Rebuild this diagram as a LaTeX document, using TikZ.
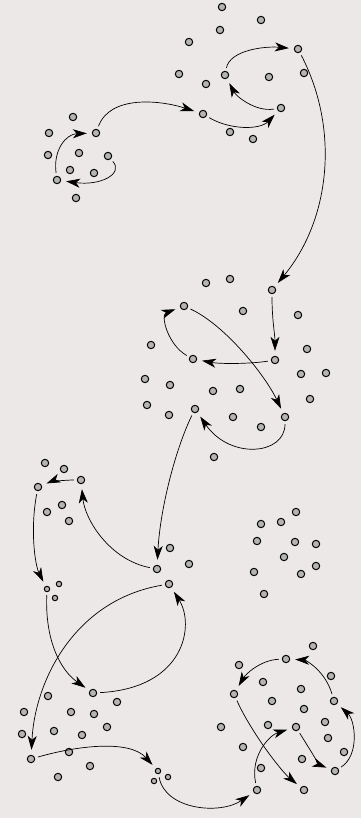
\documentclass[tikz,border=0pt]{standalone}
\usepackage{amsmath,amssymb}
\usepackage{tikz}
\usetikzlibrary{arrows.meta}

\begin{document}
\begin{tikzpicture}[x=1pt, y=-1pt,
    dot/.style={circle, draw, fill=dotgray, line width=1pt, minimum size=7.4pt, inner sep=0pt},
    tinydot/.style={dot, minimum size=5.4pt},
    hop/.style={line width=0.7pt, shorten <=3pt, shorten >=5pt, -{Stealth[length=14pt, width=9pt, inset=4pt]}}]
    \definecolor{paper}{RGB}{237,232,232}
    \definecolor{dotgray}{RGB}{180,180,180}

    \useasboundingbox (0,0) rectangle (361,818);
    \fill[paper] (0,0) rectangle (361,818);

    % top left group
    \node[dot] (a1) at (73,117) {};
    \node[dot] (a2) at (49,133) {};
    \node[dot] (a3) at (96,133) {};
    \node[dot] (a4) at (48,155) {};
    \node[dot] (a5) at (79,153) {};
    \node[dot] (a6) at (108,156) {};
    \node[dot] (a7) at (70,170) {};
    \node[dot] (a8) at (94,173) {};
    \node[dot] (a9) at (57,180) {};
    \node[dot] (a10) at (76,198) {};

    % top right group
    \node[dot] (b1) at (222,7) {};
    \node[dot] (b2) at (261,20) {};
    \node[dot] (b3) at (220,30) {};
    \node[dot] (b4) at (189,42) {};
    \node[dot] (b5) at (298,49) {};
    \node[dot] (b6) at (179,74) {};
    \node[dot] (b7) at (225,75) {};
    \node[dot] (b8) at (269,77) {};
    \node[dot] (b9) at (304,73) {};
    \node[dot] (b10) at (206,84) {};
    \node[dot] (b11) at (281,108) {};
    \node[dot] (b12) at (203,114) {};
    \node[dot] (b13) at (230,132) {};
    \node[dot] (b14) at (253,139) {};

    % middle group
    \node[dot] (c1) at (206,283) {};
    \node[dot] (c2) at (230,279) {};
    \node[dot] (c3) at (272,290) {};
    \node[dot] (c4) at (184,306) {};
    \node[dot] (c5) at (243,311) {};
    \node[dot] (c6) at (298,315) {};
    \node[dot] (c7) at (151,345) {};
    \node[dot] (c8) at (307,349) {};
    \node[dot] (c9) at (193,359) {};
    \node[dot] (c10) at (275,360) {};
    \node[dot] (c11) at (145,379) {};
    \node[dot] (c12) at (170,385) {};
    \node[dot] (c13) at (301,374) {};
    \node[dot] (c14) at (326,373) {};
    \node[dot] (c15) at (213,391) {};
    \node[dot] (c16) at (240,389) {};
    \node[dot] (c17) at (147,405) {};
    \node[dot] (c18) at (310,399) {};
    \node[dot] (c19) at (169,415) {};
    \node[dot] (c20) at (195,409) {};
    \node[dot] (c21) at (233,417) {};
    \node[dot] (c22) at (261,427) {};
    \node[dot] (c23) at (285,417) {};
    \node[dot] (c24) at (214,457) {};

    % left group
    \node[dot] (d1) at (45,463) {};
    \node[dot] (d2) at (64,469) {};
    \node[dot] (d3) at (81,480) {};
    \node[dot] (d4) at (38,487) {};
    \node[dot] (d5) at (62,505) {};
    \node[dot] (d6) at (47,512) {};
    \node[dot] (d7) at (69,521) {};
    \node[dot] (d8) at (170,548) {};
    \node[dot] (d9) at (189,564) {};
    \node[dot] (d10) at (157,569) {};
    \node[dot] (d11) at (169,584) {};
    \node[tinydot] (s1) at (47,589) {};
    \node[tinydot] (s2) at (59,584) {};
    \node[tinydot] (s3) at (55,598) {};

    % right group (no hops)
    \node[dot] (e1) at (296,512) {};
    \node[dot] (e2) at (261,524) {};
    \node[dot] (e3) at (281,522) {};
    \node[dot] (e4) at (257,541) {};
    \node[dot] (e5) at (295,542) {};
    \node[dot] (e6) at (316,544) {};
    \node[dot] (e7) at (284,557) {};
    \node[dot] (e8) at (316,566) {};
    \node[dot] (e9) at (254,572) {};
    \node[dot] (e10) at (301,574) {};
    \node[dot] (e11) at (264,594) {};

    % bottom left group
    \node[dot] (f1) at (93,693) {};
    \node[dot] (f2) at (48,696) {};
    \node[dot] (f3) at (117,702) {};
    \node[dot] (f4) at (24,712) {};
    \node[dot] (f5) at (71,712) {};
    \node[dot] (f6) at (94,714) {};
    \node[dot] (f7) at (107,727) {};
    \node[dot] (f8) at (22,734) {};
    \node[dot] (f9) at (54,731) {};
    \node[dot] (f10) at (82,735) {};
    \node[dot] (f11) at (69,752) {};
    \node[dot] (f12) at (31,759) {};
    \node[dot] (f13) at (90,766) {};
    \node[dot] (f14) at (58,777) {};
    \node[tinydot] (t1) at (158,771) {};
    \node[tinydot] (t2) at (168,777) {};
    \node[tinydot] (t3) at (154,781) {};

    % bottom right group
    \node[dot] (g1) at (313,646) {};
    \node[dot] (g2) at (286,659) {};
    \node[dot] (g3) at (239,665) {};
    \node[dot] (g4) at (331,676) {};
    \node[dot] (g5) at (263,682) {};
    \node[dot] (g6) at (301,689) {};
    \node[dot] (g7) at (234,694) {};
    \node[dot] (g8) at (272,701) {};
    \node[dot] (g9) at (334,701) {};
    \node[dot] (g10) at (304,709) {};
    \node[dot] (g11) at (325,722) {};
    \node[dot] (g12) at (221,727) {};
    \node[dot] (g13) at (268,725) {};
    \node[dot] (g14) at (296,727) {};
    \node[dot] (g15) at (328,738) {};
    \node[dot] (g16) at (243,747) {};
    \node[dot] (g17) at (344,752) {};
    \node[dot] (g18) at (302,759) {};
    \node[dot] (g19) at (261,768) {};
    \node[dot] (g20) at (335,771) {};
    \node[dot] (g21) at (257,790) {};
    \node[dot] (g22) at (304,790) {};

    % hops
    \draw[hop] (a9) .. controls (53,150) and (66,134) .. (a3);
    \draw[hop] (a6) .. controls (124,174) and (100,186) .. (a9);
    \draw[hop] (a3) .. controls (110,95) and (160,100) .. (b12);
    \draw[hop] (b12) .. controls (230,130) and (260,130) .. (b11);
    \draw[hop] (b11) .. controls (255,112) and (236,96) .. (b7);
    \draw[hop] (b7) .. controls (230,50) and (265,46) .. (b5);
    \draw[hop] (b5) .. controls (340,130) and (330,220) .. (c3);
    \draw[hop] (c3) .. controls (272,320) and (275,335) .. (c10);
    \draw[hop] (c10) .. controls (250,364) and (220,364) .. (c9);
    \draw[hop] (c9) .. controls (168,345) and (160,315) .. (c4);
    \draw[hop] (c4) .. controls (225,325) and (265,375) .. (c23);
    \draw[hop] (c23) .. controls (285,455) and (230,460) .. (c20);
    \draw[hop] (c20) .. controls (175,450) and (160,510) .. (d10);
    \draw[hop] (d3) .. controls (65,480) and (50,482) .. (d4);
    \draw[hop] (d4) .. controls (30,530) and (35,565) .. (s1);
    \draw[hop] (d10) .. controls (110,560) and (85,520) .. (d3);
    \draw[hop] (f1) .. controls (185,688) and (195,625) .. (d11);
    \draw[hop] (d11) .. controls (75,600) and (35,680) .. (f12);
    \draw[hop] (s1) .. controls (45,640) and (60,670) .. (f1);
    \draw[hop] (f12) .. controls (80,745) and (130,740) .. (t1);
    \draw[hop] (t1) .. controls (165,810) and (220,815) .. (g21);
    \draw[hop] (g21) .. controls (250,755) and (270,735) .. (g14);
    \draw[hop] (g14) .. controls (310,750) and (320,765) .. (g20);
    \draw[hop] (g20) .. controls (360,755) and (355,720) .. (g9);
    \draw[hop] (g9) .. controls (325,670) and (305,660) .. (g2);
    \draw[hop] (g2) .. controls (260,660) and (245,675) .. (g7);
    \draw[hop] (g7) .. controls (250,730) and (280,770) .. (g22);
\end{tikzpicture}
\end{document}
